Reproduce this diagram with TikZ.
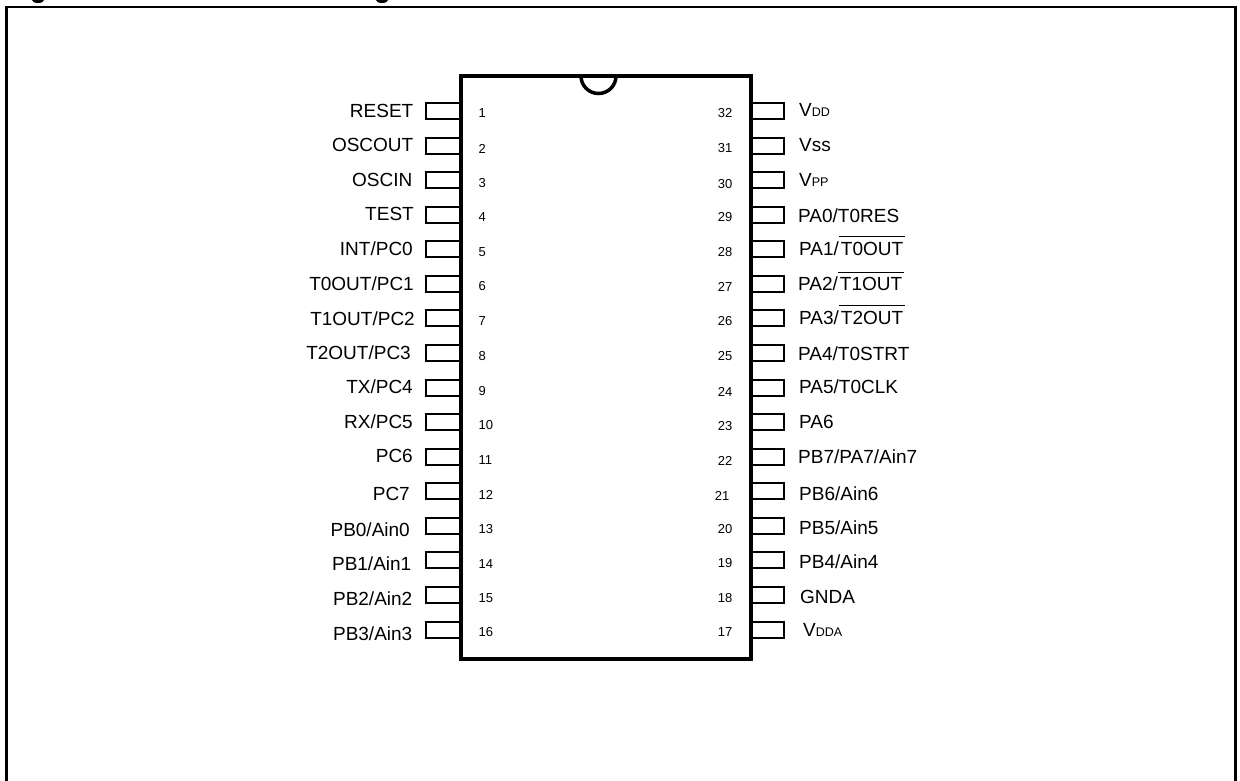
\documentclass[tikz,border=0pt]{standalone}
\usepackage{amsmath}
\usepackage{fontspec}
\setmainfont{Liberation Sans}
\usepackage{tikz}
\newcommand{\lbl}[2]{#1{\fontsize{12.5}{13}\selectfont #2}}
\newcommand{\barred}[1]{$\overline{\text{\rule{0pt}{16pt}\kern2pt #1\kern2pt}}$}
\tikzset{
  pinl/.style={draw, line width=2pt, minimum width=35pt, minimum height=16pt, inner sep=0pt},
  pinr/.style={draw, line width=2pt, minimum width=33pt, minimum height=16pt, inner sep=0pt},
  namel/.style={anchor=base east, inner sep=0pt, font=\fontsize{19}{21}\selectfont},
  namer/.style={anchor=base west, inner sep=0pt, font=\fontsize{19}{21}\selectfont},
  numl/.style={anchor=west, inner sep=0pt, font=\fontsize{13}{14}\selectfont},
  numr/.style={anchor=east, inner sep=0pt, font=\fontsize{13}{14}\selectfont},
  package/.style={draw, line width=4pt, minimum width=290pt, minimum height=583pt, inner sep=0pt}
}
\begin{document}
\begin{tikzpicture}[x=1pt, y=-1pt]
    \useasboundingbox (0, 0) rectangle (1240, 780);
    % frame
    \draw [line width=2.6pt] (6.7, 790) -- (6.7, 7) -- (1235.5, 7) -- (1235.5, 790);
    % cut title
    \fill (38, 0) ellipse (6pt and 3pt);
    \fill (382, 0) ellipse (6pt and 3pt);
    % left pins
    \node [pinl] (p1)  at (443.5, 111) {};
    \node [pinl] (p2)  at (443.5, 145.5) {};
    \node [pinl] (p3)  at (443.5, 180) {};
    \node [pinl] (p4)  at (443.5, 214.5) {};
    \node [pinl] (p5)  at (443.5, 249) {};
    \node [pinl] (p6)  at (443.5, 283.5) {};
    \node [pinl] (p7)  at (443.5, 318) {};
    \node [pinl] (p8)  at (443.5, 353) {};
    \node [pinl] (p9)  at (443.5, 387.5) {};
    \node [pinl] (p10) at (443.5, 422) {};
    \node [pinl] (p11) at (443.5, 456.5) {};
    \node [pinl] (p12) at (443.5, 491) {};
    \node [pinl] (p13) at (443.5, 525.5) {};
    \node [pinl] (p14) at (443.5, 560) {};
    \node [pinl] (p15) at (443.5, 594.5) {};
    \node [pinl] (p16) at (443.5, 629.5) {};
    % right pins
    \node [pinr] (p32) at (767.5, 111) {};
    \node [pinr] (p31) at (767.5, 145.5) {};
    \node [pinr] (p30) at (767.5, 180) {};
    \node [pinr] (p29) at (767.5, 214.5) {};
    \node [pinr] (p28) at (767.5, 249) {};
    \node [pinr] (p27) at (767.5, 283.5) {};
    \node [pinr] (p26) at (767.5, 318) {};
    \node [pinr] (p25) at (767.5, 353) {};
    \node [pinr] (p24) at (767.5, 387.5) {};
    \node [pinr] (p23) at (767.5, 422) {};
    \node [pinr] (p22) at (767.5, 456.5) {};
    \node [pinr] (p21) at (767.5, 491) {};
    \node [pinr] (p20) at (767.5, 525.5) {};
    \node [pinr] (p19) at (767.5, 560) {};
    \node [pinr] (p18) at (767.5, 594.5) {};
    \node [pinr] (p17) at (767.5, 629.5) {};
    % package
    \node [package] (chip) at (605.5, 367.5) {};
    \draw [line width=3.5pt] (581, 76) arc (180:360:17.5pt);
    % left names
    \node [namel] (n1)  at (413.5, 117) {RESET};
    \node [namel] (n2)  at (413.5, 151) {OSCOUT};
    \node [namel] (n3)  at (412.5, 186) {OSCIN};
    \node [namel] (n4)  at (414, 220) {TEST};
    \node [namel] (n5)  at (413, 255) {INT/PC0};
    \node [namel] (n6)  at (414, 290.5) {T0OUT/PC1};
    \node [namel] (n7)  at (415, 325) {T1OUT/PC2};
    \node [namel] (n8)  at (411, 359.5) {T2OUT/PC3};
    \node [namel] (n9)  at (413, 393.5) {TX/PC4};
    \node [namel] (n10) at (413, 428.5) {RX/PC5};
    \node [namel] (n11) at (413, 462) {PC6};
    \node [namel] (n12) at (410, 500.5) {PC7};
    \node [namel] (n13) at (410, 536) {PB0/Ain0};
    \node [namel] (n14) at (411.5, 570.5) {PB1/Ain1};
    \node [namel] (n15) at (412.5, 605.5) {PB2/Ain2};
    \node [namel] (n16) at (412.5, 640) {PB3/Ain3};
    % right names
    \node [namer] (n32) at (799, 116) {\lbl{V}{DD}};
    \node [namer] (n31) at (799, 151.5) {Vss};
    \node [namer] (n30) at (799, 186) {\lbl{V}{PP}};
    \node [namer] (n29) at (798, 222.5) {PA0/T0RES};
    \node [namer] (n28) at (799, 255) {PA1/\barred{T0OUT}};
    \node [namer] (n27) at (798, 290.5) {PA2/\barred{T1OUT}};
    \node [namer] (n26) at (799, 324) {PA3/\barred{T2OUT}};
    \node [namer] (n25) at (798, 360) {PA4/T0STRT};
    \node [namer] (n24) at (799, 393.5) {PA5/T0CLK};
    \node [namer] (n23) at (799, 428) {PA6};
    \node [namer] (n22) at (798, 463.5) {PB7/PA7/Ain7};
    \node [namer] (n21) at (799, 500) {PB6/Ain6};
    \node [namer] (n20) at (799, 534) {PB5/Ain5};
    \node [namer] (n19) at (799, 568) {PB4/Ain4};
    \node [namer] (n18) at (800, 603) {GNDA};
    \node [namer] (n17) at (803, 636) {\lbl{V}{DDA}};
    % left numbers
    \node [numl] (m1)  at (478.5, 113.5) {1};
    \node [numl] (m2)  at (478.5, 148.5) {2};
    \node [numl] (m3)  at (478.5, 183.5) {3};
    \node [numl] (m4)  at (478.5, 217.5) {4};
    \node [numl] (m5)  at (478.5, 252.5) {5};
    \node [numl] (m6)  at (478.5, 286.5) {6};
    \node [numl] (m7)  at (478.5, 321.5) {7};
    \node [numl] (m8)  at (478.5, 356.5) {8};
    \node [numl] (m9)  at (478.5, 391.5) {9};
    \node [numl] (m10) at (478.5, 425.5) {10};
    \node [numl] (m11) at (478.5, 460.5) {11};
    \node [numl] (m12) at (478.5, 495) {12};
    \node [numl] (m13) at (478.5, 529.5) {13};
    \node [numl] (m14) at (478.5, 564) {14};
    \node [numl] (m15) at (478.5, 598.5) {15};
    \node [numl] (m16) at (478.5, 632.5) {16};
    % right numbers
    \node [numr] (m32) at (732.5, 113.5) {32};
    \node [numr] (m31) at (732.5, 148.5) {31};
    \node [numr] (m30) at (732.5, 184) {30};
    \node [numr] (m29) at (732.5, 217.5) {29};
    \node [numr] (m28) at (732.5, 252.5) {28};
    \node [numr] (m27) at (732.5, 286.5) {27};
    \node [numr] (m26) at (732.5, 321.5) {26};
    \node [numr] (m25) at (732.5, 356.5) {25};
    \node [numr] (m24) at (732.5, 391.5) {24};
    \node [numr] (m23) at (732.5, 426) {23};
    \node [numr] (m22) at (732.5, 460.5) {22};
    \node [numr] (m21) at (729.5, 495.5) {21};
    \node [numr] (m20) at (732.5, 529.5) {20};
    \node [numr] (m19) at (732.5, 563.5) {19};
    \node [numr] (m18) at (732.5, 598) {18};
    \node [numr] (m17) at (732.5, 632.5) {17};
\end{tikzpicture}
\end{document}
